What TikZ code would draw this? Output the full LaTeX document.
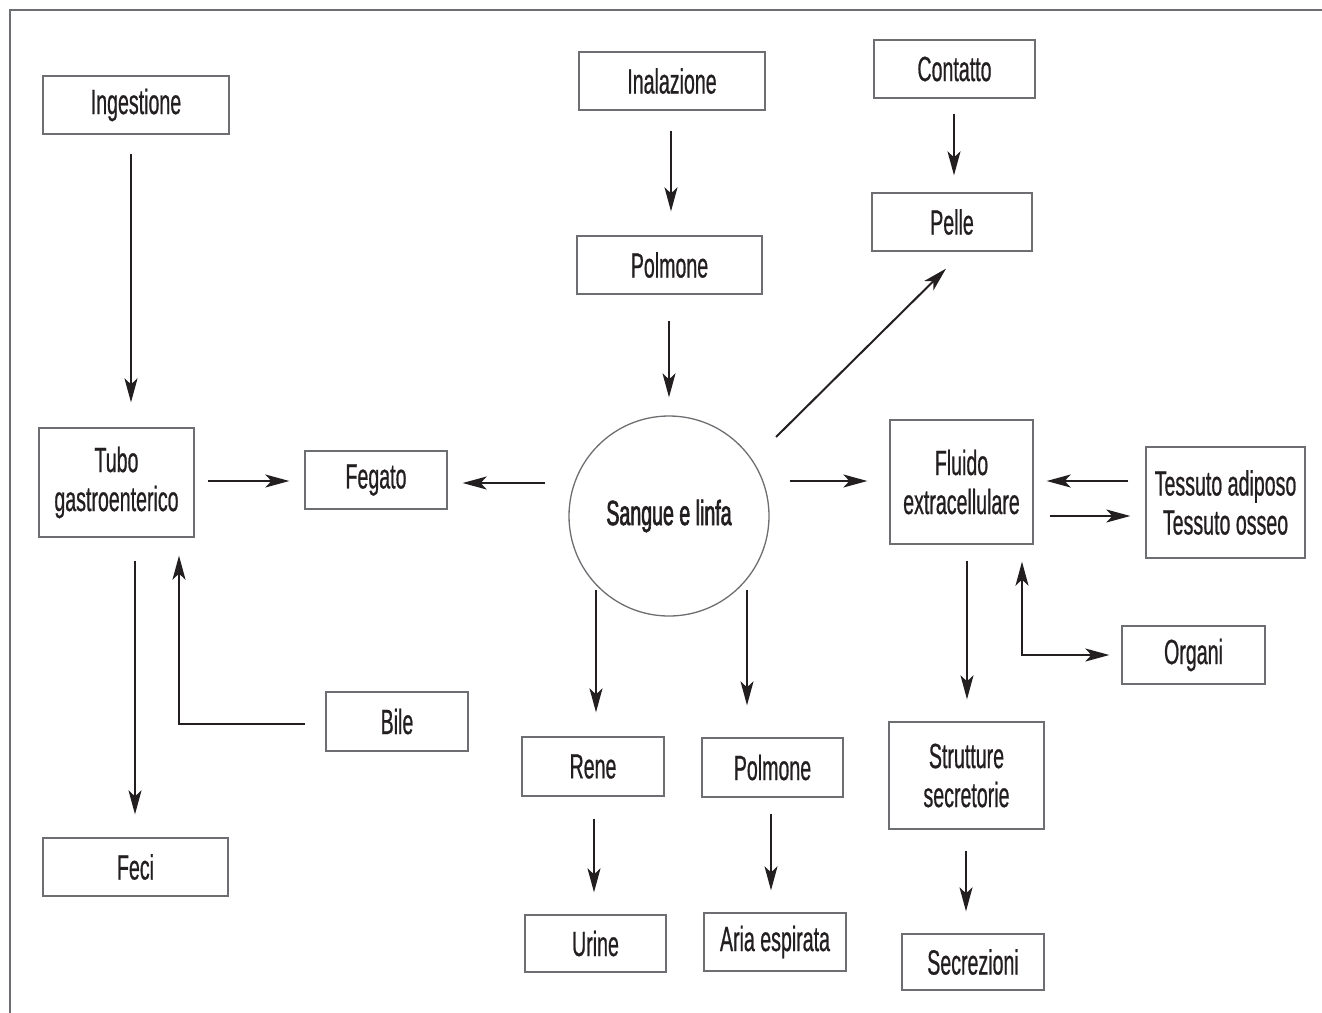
\documentclass[tikz,border=0pt]{standalone}
\usepackage{fontspec}
\setmainfont[FakeStretch=0.56,FakeBold=0.6]{Liberation Sans}
\newfontfamily\heavyfont[FakeStretch=0.56,FakeBold=1.8]{Liberation Sans}
\usetikzlibrary{arrows.meta,calc}
\definecolor{ink}{HTML}{231F20}
\definecolor{edge}{HTML}{6D6E71}
\begin{document}
\begin{tikzpicture}[x=1pt,y=-1pt,
  box/.style={draw=edge,line width=1.3pt,rectangle,inner sep=0pt,align=center,text=ink,font=\fontsize{35}{39}\selectfont},
  arr/.style={draw=ink,line width=2pt,-{Stealth[length=24pt,width=13pt,inset=6pt]}},
  darr/.style={draw=ink,line width=2pt,{Stealth[length=24pt,width=13pt,inset=6pt]}-{Stealth[length=24pt,width=13pt,inset=6pt]}},
]
\useasboundingbox (0,0) rectangle (1322,1012);
\draw[edge,line width=2pt] (10,1014) -- (10,10) -- (1324,10);

% nodes
\node[box,minimum width=186,minimum height=58] (ing) at (136,105) {Ingestione};
\node[box,minimum width=155,minimum height=109] (tubo) at (116.5,482.5) {Tubo\\gastroenterico};
\node[box,minimum width=142,minimum height=58] (feg) at (376,480) {Fegato};
\node[box,minimum width=185,minimum height=58] (feci) at (135.5,867) {Feci};
\node[box,minimum width=142,minimum height=59] (bile) at (397,721.5) {Bile};
\node[box,minimum width=186,minimum height=58] (inal) at (672,81) {Inalazione};
\node[box,minimum width=185,minimum height=58] (polm1) at (669.5,265) {Polmone};
\node[box,minimum width=161,minimum height=58] (cont) at (954.5,69) {Contatto};
\node[box,minimum width=160,minimum height=58] (pelle) at (952,222) {Pelle};
\node[draw=edge,line width=1.3pt,circle,minimum size=200,inner sep=0pt,text=ink,font=\heavyfont\fontsize{35}{39}\selectfont] (sl) at (669,516) {Sangue e linfa};
\node[box,minimum width=143,minimum height=124] (fluido) at (961.5,482) {Fluido\\extracellulare};
\node[box,minimum width=159,minimum height=111] (tess) at (1225.5,502.5) {Tessuto adiposo\\Tessuto osseo};
\node[box,minimum width=143,minimum height=58] (organi) at (1193.5,655) {Organi};
\node[box,minimum width=155,minimum height=107] (strut) at (966.5,775.5) {Strutture\\secretorie};
\node[box,minimum width=142,minimum height=56] (secr) at (973,962) {Secrezioni};
\node[box,minimum width=142,minimum height=59] (rene) at (593,766.5) {Rene};
\node[box,minimum width=141,minimum height=57] (urine) at (595.5,943.5) {Urine};
\node[box,minimum width=141,minimum height=59] (polm2) at (772.5,767.5) {Polmone};
\node[box,minimum width=142,minimum height=58] (aria) at (775,942) {Aria espirata};

% connectors
\draw[arr] ($(ing.south)+(-5,19)$) -- ($(tubo.north)+(14.5,-25)$);
\draw[arr] ($(tubo.east)+(13,-1.5)$) -- ($(feg.west)+(-15,1)$);
\draw[arr] ($(sl.west)+(-23,-33)$) -- ($(feg.east)+(15,3)$);
\draw[arr] ($(tubo.south)+(18.5,23)$) -- ($(feci.north)+(-0.5,-23)$);
\draw[arr] ($(bile.west)+(-20,2.5)$) -| ($(tubo.south)+(62.5,18)$);
\draw[arr] ($(inal.south)+(-1,20)$) -- ($(polm1.north)+(1.5,-24)$);
\draw[arr] ($(polm1.south)+(-0.5,26)$) -- ($(sl.north)+(0,-18)$);
\draw[arr] ($(cont.south)+(-0.5,15)$) -- ($(pelle.north)+(2,-17)$);
\draw[arr] ($(sl.center)+(107,-79)$) -- ($(pelle.south)+(-6,17)$);
\draw[arr] ($(sl.east)+(20,-35)$) -- ($(fluido.west)+(-22,-1)$);
\draw[arr] ($(tess.west)+(-17,-21.5)$) -- ($(fluido.east)+(13,-1)$);
\draw[arr] ($(fluido.east)+(16,34)$) -- ($(tess.west)+(-15,13.5)$);
\draw[darr] ($(fluido.south)+(60.5,17)$) |- ($(organi.west)+(-12,0)$);
\draw[arr] ($(fluido.south)+(5.5,16)$) -- ($(strut.north)+(0.5,-22)$);
\draw[arr] ($(strut.south)+(-0.5,21)$) -- ($(secr.north)+(-7,-22)$);
\draw[arr] ($(sl.center)+(-73,74)$) -- ($(rene.north)+(3,-24)$);
\draw[arr] ($(rene.south)+(1,22)$) -- ($(urine.north)+(-1.5,-22)$);
\draw[arr] ($(sl.center)+(78,74)$) -- ($(polm2.north)+(-25.5,-32)$);
\draw[arr] ($(polm2.south)+(-1.5,16)$) -- ($(aria.north)+(-4,-22)$);
\end{tikzpicture}
\end{document}
